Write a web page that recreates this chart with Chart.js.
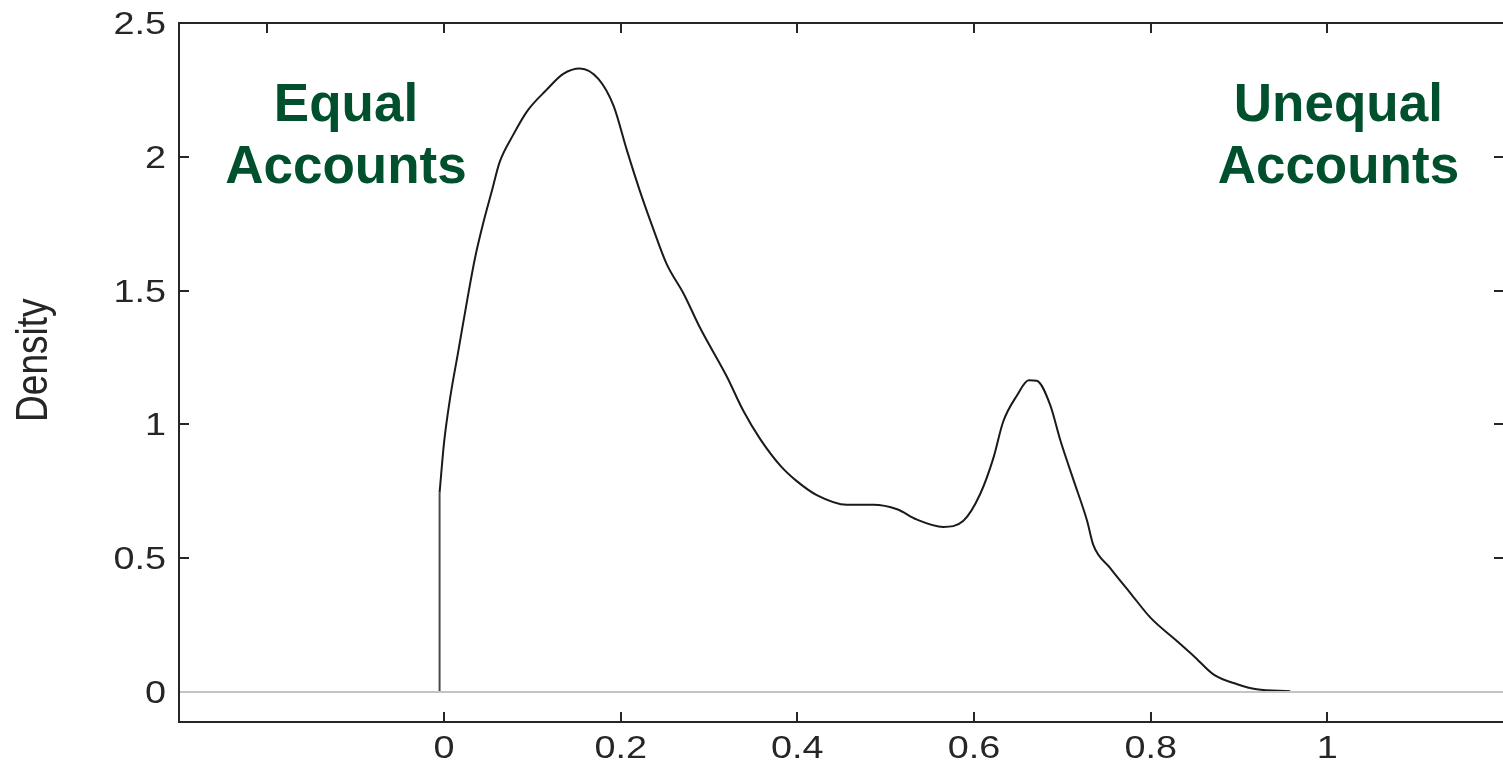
<!DOCTYPE html>
<html>
<head>
<meta charset="utf-8">
<script src="https://cdn.jsdelivr.net/npm/chart.js@4/dist/chart.umd.min.js"></script>
<style>
  html, body { margin: 0; padding: 0; background: #ffffff; overflow: hidden; }
  canvas { display: block; }
</style>
</head>
<body>
<canvas id="densityChart" width="1505" height="764"></canvas>
<script>
// kernel density estimate
const densityX = [-0.005, 0.000, 0.007, 0.016, 0.026, 0.035, 0.045, 0.054, 0.063, 0.078,
  0.094, 0.116, 0.135, 0.154, 0.175, 0.192, 0.207, 0.222, 0.237, 0.252,
  0.271, 0.290, 0.320, 0.339, 0.358, 0.381, 0.399, 0.422, 0.456, 0.486,
  0.513, 0.535, 0.565, 0.588, 0.607, 0.622, 0.633, 0.649, 0.662, 0.671,
  0.686, 0.698, 0.713, 0.728, 0.735, 0.754, 0.777, 0.800, 0.830, 0.849,
  0.871, 0.898, 0.920, 0.958];
const densityY = [0.745, 0.93, 1.10, 1.27, 1.46, 1.62, 1.76, 1.87, 1.98, 2.08,
  2.17, 2.25, 2.31, 2.33, 2.29, 2.19, 2.025, 1.87, 1.73, 1.60,
  1.49, 1.36, 1.18, 1.05, 0.945, 0.845, 0.789, 0.736, 0.70, 0.70,
  0.683, 0.645, 0.617, 0.64, 0.74, 0.875, 1.01, 1.11, 1.165, 1.163,
  1.075, 0.938, 0.789, 0.64, 0.55, 0.464, 0.37, 0.277, 0.19, 0.134,
  0.066, 0.029, 0.01, 0.003];

// vertical drop at the left end of the curve
const edgeX = [-0.005, -0.005];
const edgeY = [0, 0.745];

// grey reference line at zero density
const zeroX = [-0.3, 1.2];
const zeroY = [0, 0];

const xRange = [-0.3, 1.2];
const yRange = [-0.112, 2.5];
const xTickValues = [0, 0.2, 0.4, 0.6, 0.8, 1];
const xTickLabels = ['0', '0.2', '0.4', '0.6', '0.8', '1'];
const topTickValues = [-0.2, 0, 0.2, 0.4, 0.6, 0.8, 1];
const yTickValues = [0, 0.5, 1, 1.5, 2, 2.5];
const yTickLabels = ['0', '0.5', '1', '1.5', '2', '2.5'];
const yTitle = 'Density';

const notes = [
  { x: -0.111, y: 2.134, lines: ['Equal', 'Accounts'] },
  { x: 1.0125, y: 2.134, lines: ['Unequal', 'Accounts'] }
];

const toPoints = (xs, ys) => xs.map((x, i) => ({ x: x, y: ys[i] }));

const AXIS = '#262626';
const STRETCH = 1.22; // the original figure text is widened

// box, inward ticks, tick labels and the green notes
const framePlugin = {
  id: 'frame',
  afterDraw(chart) {
    const ctx = chart.ctx;
    const xs = chart.scales.x;
    const ys = chart.scales.y;
    const { left, right, top, bottom } = chart.chartArea;
    const tick = 10;

    ctx.save();
    ctx.strokeStyle = AXIS;
    ctx.lineWidth = 2;
    ctx.beginPath();
    ctx.moveTo(right, top);
    ctx.lineTo(left, top);
    ctx.lineTo(left, bottom);
    ctx.lineTo(right, bottom);
    ctx.lineTo(right, top);
    ctx.stroke();

    ctx.beginPath();
    xTickValues.forEach(v => {
      const px = Math.round(xs.getPixelForValue(v));
      ctx.moveTo(px, bottom);
      ctx.lineTo(px, bottom - tick);
    });
    topTickValues.forEach(v => {
      const px = Math.round(xs.getPixelForValue(v));
      ctx.moveTo(px, top);
      ctx.lineTo(px, top + tick);
    });
    yTickValues.forEach(v => {
      if (v === 0) return; // hidden under the zero line
      const py = Math.round(ys.getPixelForValue(v));
      ctx.moveTo(left, py);
      ctx.lineTo(left + tick, py);
      ctx.moveTo(right, py);
      ctx.lineTo(right - tick, py);
    });
    ctx.stroke();

    ctx.fillStyle = AXIS;
    ctx.font = '31px "Liberation Sans", Arial, sans-serif';
    ctx.textBaseline = 'alphabetic';

    // y labels, right aligned
    yTickValues.forEach((v, i) => {
      const py = ys.getPixelForValue(v);
      ctx.save();
      ctx.translate(left - 13, py + 11);
      ctx.scale(STRETCH, 1);
      ctx.textAlign = 'right';
      ctx.fillText(yTickLabels[i], 0, 0);
      ctx.restore();
    });

    // x labels, centered
    xTickValues.forEach((v, i) => {
      const px = xs.getPixelForValue(v);
      ctx.save();
      ctx.translate(px, bottom + 36);
      ctx.scale(STRETCH, 1);
      ctx.textAlign = 'center';
      ctx.fillText(xTickLabels[i], 0, 0);
      ctx.restore();
    });

    // axis title
    ctx.save();
    ctx.font = '37px "Liberation Sans", Arial, sans-serif';
    ctx.translate(47, ys.getPixelForValue(1.24));
    ctx.scale(STRETCH, 1);
    ctx.rotate(-Math.PI / 2);
    ctx.textAlign = 'center';
    ctx.fillText(yTitle, 0, 0);
    ctx.restore();

    // notes
    ctx.fillStyle = '#00502d';
    ctx.font = 'bold 53px "Liberation Sans", Arial, sans-serif';
    ctx.textAlign = 'center';
    notes.forEach(n => {
      const px = xs.getPixelForValue(n.x);
      const py = ys.getPixelForValue(n.y);
      n.lines.forEach((line, i) => {
        ctx.fillText(line, px, py + i * 62);
      });
    });
    ctx.restore();
  }
};

new Chart(document.getElementById('densityChart'), {
  type: 'scatter',
  data: {
    datasets: [
      {
        data: toPoints(zeroX, zeroY),
        showLine: true,
        borderColor: '#c4c4c4',
        borderWidth: 2,
        pointRadius: 0
      },
      {
        data: toPoints(edgeX, edgeY),
        showLine: true,
        borderColor: '#4a4a4a',
        borderWidth: 2,
        pointRadius: 0
      },
      {
        data: toPoints(densityX, densityY),
        showLine: true,
        borderColor: '#1a1a1a',
        borderWidth: 2,
        pointRadius: 0,
        cubicInterpolationMode: 'monotone'
      }
    ]
  },
  options: {
    responsive: false,
    animation: false,
    devicePixelRatio: 1,
    layout: { padding: { top: 23, right: 1, left: 0, bottom: 0 } },
    plugins: {
      legend: { display: false },
      tooltip: { enabled: false }
    },
    scales: {
      x: {
        type: 'linear',
        min: xRange[0],
        max: xRange[1],
        grid: { display: false },
        border: { display: false },
        ticks: { display: false },
        afterFit: (s) => { s.height = 42; }
      },
      y: {
        type: 'linear',
        min: yRange[0],
        max: yRange[1],
        grid: { display: false },
        border: { display: false },
        ticks: { display: false },
        afterFit: (s) => { s.width = 179; }
      }
    }
  },
  plugins: [framePlugin]
});
</script>
</body>
</html>
